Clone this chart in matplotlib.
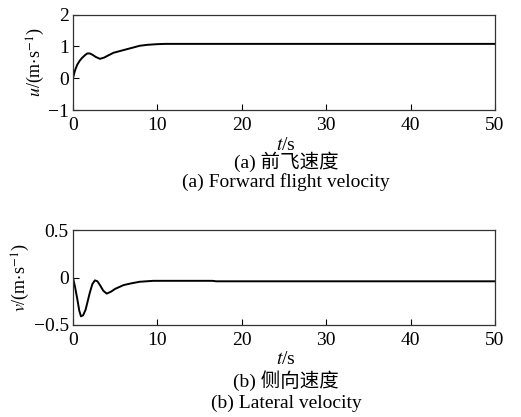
import matplotlib
matplotlib.use("Agg")
import matplotlib.pyplot as plt
import numpy as np

# data
t_u = [0, 0.25, 0.5, 0.8, 1.05, 1.4, 1.7, 2.0, 2.3, 2.7, 3.2, 3.7, 4.2, 4.8, 5.5, 6.35, 7.2, 7.9, 8.8, 9.9, 11, 20, 30, 40, 50]
u   = [0.0, 0.25, 0.42, 0.55, 0.63, 0.72, 0.78, 0.78, 0.74, 0.67, 0.61, 0.65, 0.72, 0.80, 0.85, 0.91, 0.97, 1.02, 1.05, 1.07, 1.08, 1.08, 1.08, 1.08, 1.08]
t_v = [0, 0.25, 0.5, 0.75, 0.95, 1.2, 1.5, 1.75, 2.0, 2.3, 2.6, 2.9, 3.2, 3.6, 4.0, 4.5, 5.0, 6.0, 7.0, 7.9, 9.5, 16.5, 17, 30, 40, 50]
v   = [0.0, -0.10, -0.22, -0.35, -0.41, -0.40, -0.34, -0.25, -0.16, -0.07, -0.03, -0.04, -0.08, -0.14, -0.17, -0.15, -0.12, -0.08, -0.06, -0.045, -0.035, -0.035, -0.04, -0.04, -0.04, -0.04]

xticks = [0, 10, 20, 30, 40, 50]
u_ticks = [-1, 0, 1, 2]
v_ticks = [-0.5, 0, 0.5]
u_ticklabels = ["\u22121", "0", "1", "2"]
v_ticklabels = ["\u22120.5", "0", "0.5"]

plt.rcParams['mathtext.fontset'] = 'stix'
plt.rcParams['font.family'] = ['Liberation Serif', 'Noto Sans CJK SC']

fig = plt.figure(figsize=(5.21, 4.17), dpi=100)
ax1 = fig.add_axes([0.140, 0.736, 0.810, 0.229])
ax2 = fig.add_axes([0.140, 0.221, 0.810, 0.227])

for ax, tt, yy, yt, ytl, ylim, lab in [
    (ax1, t_u, u, u_ticks, u_ticklabels, (-1, 2), r"$u$/(m$\cdot$s$^{-1}$)"),
    (ax2, t_v, v, v_ticks, v_ticklabels, (-0.5, 0.5), r"$v$/(m$\cdot$s$^{-1}$)"),
]:
    ax.plot(tt, yy, color='black', lw=1.4)
    ax.set_xlim(0, 50)
    ax.set_ylim(*ylim)
    ax.set_xticks(xticks)
    ax.set_xticklabels([str(x) for x in xticks])
    ax.set_yticks(yt)
    ax.set_yticklabels(ytl)
    ax.tick_params(direction='in', length=4, width=0.8, labelsize=14)
    ax.tick_params(axis='x', pad=5)
    ax.tick_params(axis='y', pad=3)
    for s in ax.spines.values():
        s.set_linewidth(0.9)
        s.set_color('#333333')
    ax.set_ylabel(lab, fontsize=13, labelpad=1)

cx = 0.549
fig.text(cx, 1 - 145 / 417, r"$t$/s", ha='center', va='center', fontsize=14)
fig.text(cx, 1 - 162 / 417, "(a) 前飞速度", ha='center', va='center', fontsize=14)
fig.text(cx, 1 - 182 / 417, "(a) Forward flight velocity", ha='center', va='center', fontsize=14)
fig.text(cx, 1 - 359 / 417, r"$t$/s", ha='center', va='center', fontsize=14)
fig.text(cx, 1 - 381 / 417, "(b) 侧向速度", ha='center', va='center', fontsize=14)
fig.text(cx, 1 - 403 / 417, "(b) Lateral velocity", ha='center', va='center', fontsize=14)

fig.savefig("out.png", dpi=100)
